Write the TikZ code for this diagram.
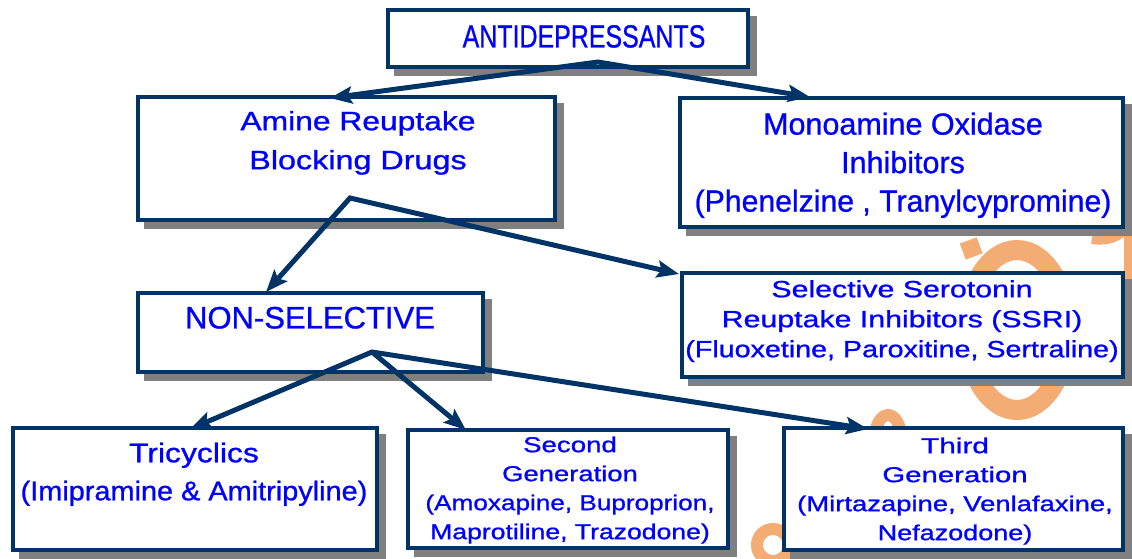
\documentclass[tikz,border=0pt]{standalone}
\usepackage{fontspec}
\setmainfont{Liberation Sans}[FakeBold=0.9]
\usepackage{graphicx}
\usetikzlibrary{arrows.meta}
\definecolor{navy}{RGB}{0,51,102}
\definecolor{txtblue}{RGB}{0,0,255}
\definecolor{shgray}{RGB}{128,128,128}
\definecolor{orng}{RGB}{243,172,115}
\newcommand\hs[2]{\scalebox{#1}[1]{#2}}
% \shbox{name}{x}{y}{w}{h}
\newcommand\shbox[5]{%
  \fill[shgray] (#2+6,#3+6) rectangle (#2+#4+9,#3+#5+9);
  \node[box, minimum width=#4pt, minimum height=#5pt] (#1) at (#2,#3) {};}
\begin{document}
\begin{tikzpicture}[x=1pt,y=-1pt,
  box/.style={draw=navy,line width=4.5pt,fill=white,rectangle,inner sep=0pt,outer sep=0pt,anchor=north west},
  lbl/.style={text=txtblue,inner sep=0pt,outer sep=0pt,align=center,anchor=north},
  conn/.style={draw=navy,line width=5pt,line join=miter},
  tipb/.style={-{Stealth[length=22pt,width=17pt,inset=4pt]}},
  tipbb/.style={{Stealth[length=22pt,width=17pt,inset=4pt]}-{Stealth[length=22pt,width=17pt,inset=4pt]}},
  deco/.style={draw=orng,line width=20pt}]
\fill[white] (0,0) rectangle (1132,558);
\useasboundingbox (0,0) rectangle (1132,558);
% background decoration
\draw[deco] (1017,330) ellipse [x radius=50, y radius=80];
\fill[orng, rotate around={20:(971,248)}] (962,240) rectangle (980,257);
\draw[deco, line width=14pt] (1092,237) .. controls (1112,240) and (1128,232) .. (1136,205);
\draw[deco, line width=10pt] (1129,225) -- (1129,285);
\draw[deco, line width=12pt] (874,445) .. controls (874,405) and (902,405) .. (902,445);
\draw[deco, line width=12pt] (773,545) circle [radius=16];
% boxes with shadows
\shbox{anti}{388}{10}{360}{57}
\shbox{amine}{138}{97}{417}{123}
\shbox{mao}{680}{98}{443}{129}
\shbox{nonsel}{138}{293}{345}{79}
\shbox{ssri}{682}{273}{441}{104}
\shbox{tri}{13}{428}{364}{122}
\shbox{second}{408}{430}{320}{118}
\shbox{third}{784}{428}{339}{122}
% labels
\node[lbl, font=\fontsize{32}{38}\selectfont] (antiT) at (584,25.1) {\hs{0.78}{ANTIDEPRESSANTS}};
\node[lbl, font=\fontsize{26.5}{39}\selectfont] (amineT) at (358,111) {\hs{1.2}{Amine Reuptake}\\\hs{1.22}{Blocking Drugs}};
\node[lbl, font=\fontsize{30.5}{38.5}\selectfont] (maoT) at (903,112.5) {Monoamine Oxidase\\Inhibitors\\\hs{0.99}{(Phenelzine , Tranylcypromine)}};
\node[lbl, font=\fontsize{31}{38}\selectfont] (nonselT) at (310,306.8) {NON-SELECTIVE};
\node[lbl, font=\fontsize{23.5}{30}\selectfont] (ssriT) at (902,280.2) {\hs{1.29}{Selective Serotonin}\\\hs{1.29}{Reuptake Inhibitors (SSRI)}\\\hs{1.22}{(Fluoxetine, Paroxitine, Sertraline)}};
\node[lbl, font=\fontsize{27}{38}\selectfont] (triT) at (194,442.7) {\hs{1.18}{Tricyclics}\\\hs{1.07}{(Imipramine \& Amitripyline)}};
\node[lbl, font=\fontsize{21.6}{29}\selectfont] (secondT) at (570,436.5) {\hs{1.28}{Second}\\\hs{1.27}{Generation}\\\hs{1.21}{(Amoxapine, Buproprion,}\\\hs{1.23}{Maprotiline, Trazodone)}};
\node[lbl, font=\fontsize{21.6}{29}\selectfont] (thirdT) at (955,437.5) {\hs{1.38}{Third}\\\hs{1.36}{Generation}\\\hs{1.27}{(Mirtazapine, Venlafaxine,}\\\hs{1.25}{Nefazodone)}};
% connector points
\coordinate (apexA) at (598,62);
\coordinate (tA1) at (330,98);
\coordinate (tA2) at (810,97);
\coordinate (apexB) at (350,198);
\coordinate (tB1) at (266,292);
\coordinate (tB2) at (679,274);
\coordinate (apexC) at (372,352);
\coordinate (tC1) at (190,429);
\coordinate (tC2) at (466,430);
\coordinate (tC3) at (868,429);
% connectors
\draw[conn,tipbb] (tA1) -- (apexA) -- (tA2);
\draw[conn,tipbb] (tB1) -- (apexB) -- (tB2);
\draw[conn,tipbb] (tC1) -- (apexC) -- (tC3);
\draw[conn,tipb] (apexC) -- (tC2);
\end{tikzpicture}
\end{document}
